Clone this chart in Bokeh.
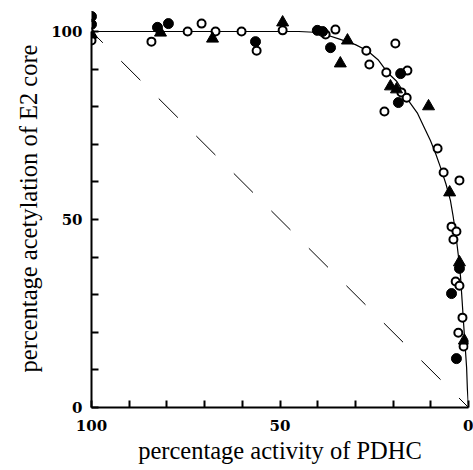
from bokeh.plotting import figure
from bokeh.models import Range1d, FixedTicker
from bokeh.embed import file_html
from bokeh.resources import INLINE

# ---- data ----
open_x = [100, 84.1, 74.5, 70.8, 67.1, 60.2, 56.2, 49.3, 37.9, 35.3, 27.1, 19.4, 26.3, 21.8,
          16.2, 17.8, 16.4, 22.3, 8.2, 6.6, 2.4, 4.5, 3.2, 4.0, 3.4, 2.4, 1.6, 2.7, 1.3]
open_y = [97.6, 97.3, 100.0, 102.1, 100.0, 100.0, 94.9, 100.3, 99.2, 100.5, 94.9, 96.8, 91.2, 89.1,
          89.6, 83.8, 82.4, 78.7, 68.9, 62.5, 60.4, 48.1, 46.8, 44.7, 33.5, 32.4, 23.9, 19.9, 16.2]

filled_x = [100, 100, 82.5, 79.6, 56.5, 40.1, 38.7, 36.6, 18.0, 18.6, 2.4, 4.5, 3.2]
filled_y = [104.0, 101.9, 101.1, 102.1, 97.3, 100.3, 100.0, 95.7, 88.8, 81.1, 37.0, 30.3, 13.0]

tri_x = [100, 81.7, 67.9, 49.3, 32.1, 34.0, 20.7, 19.1, 10.6, 5.0, 2.4, 1.1]
tri_y = [99.2, 99.7, 98.1, 102.4, 97.6, 91.5, 85.4, 84.6, 80.1, 57.2, 38.6, 17.8]

curve_x = [100, 45, 41, 38, 34, 30, 26.8, 24, 21.5, 19, 17.2, 15.5, 13.5, 12, 10.1, 8.7, 7.4, 6,
           4.8, 4.1, 3.4, 2.7, 2.1, 1.7, 1.3, 0.9, 0.5, 0.3, 0]
curve_y = [100, 100, 99.8, 99.2, 97.9, 96.5, 94.9, 92.5, 89.1, 86.7, 83.8, 81, 78.2, 75, 71.0, 67.5,
           63.8, 59.5, 55.1, 51, 46.3, 40.5, 34.6, 28.5, 22.3, 16.5, 10.6, 5, 0]

diag_x = [100, 0]
diag_y = [100, 0]

tick_values = [0, 10, 20, 30, 40, 50, 60, 70, 80, 90, 100]
tick_labels = {0: "0", 50: "50", 100: "100"}

x_title = "percentage activity of PDHC"
y_title = "percentage acetylation of E2 core"

# ---- figure ----
p = figure(width=473, height=470, x_range=Range1d(100, 0), y_range=Range1d(0, 105.85),
           output_backend="svg", toolbar_location=None,
           min_border_left=91, min_border_right=5, min_border_top=9, min_border_bottom=63)
p.outline_line_color = None
p.xgrid.visible = False
p.ygrid.visible = False
p.background_fill_color = "white"
p.border_fill_color = "white"

overrides = {v: tick_labels.get(v, "") for v in tick_values}
for ax in (p.xaxis[0], p.yaxis[0]):
    ax.ticker = FixedTicker(ticks=tick_values, minor_ticks=[])
    ax.major_label_overrides = overrides
    ax.bounds = (0, 100)
    ax.axis_line_color = "black"
    ax.axis_line_width = 2
    ax.major_tick_line_color = "black"
    ax.major_tick_line_width = 2
    ax.major_tick_in = 7
    ax.major_tick_out = 0
    ax.minor_tick_line_color = None
    ax.major_label_text_font = "DejaVu Serif"
    ax.major_label_text_font_style = "bold"
    ax.major_label_text_font_size = "15px"
    ax.major_label_text_color = "black"
    ax.axis_label_text_font = "Liberation Serif"
    ax.axis_label_text_font_style = "normal"
    ax.axis_label_text_font_size = "24.5px"
    ax.axis_label_text_color = "black"

p.xaxis.axis_label = x_title
p.yaxis.axis_label = y_title
p.xaxis.major_label_standoff = 12
p.yaxis.major_label_standoff = 9
p.xaxis.axis_label_standoff = 3
p.yaxis.axis_label_standoff = 6

p.line(diag_x, diag_y, line_color="black", line_width=1, line_dash="27 26", line_dash_offset=11)
p.line(curve_x, curve_y, line_color="black", line_width=1.2)

p.scatter(open_x, open_y, marker="circle", size=8, fill_color="white", line_color="black", line_width=2)
p.scatter(filled_x, filled_y, marker="circle", size=10, fill_color="black", line_color="black", line_width=1)
p.scatter(tri_x, tri_y, marker="triangle", size=12, fill_color="black", line_color="black", line_width=1)

open("out.html", "w").write(file_html(p, INLINE))
